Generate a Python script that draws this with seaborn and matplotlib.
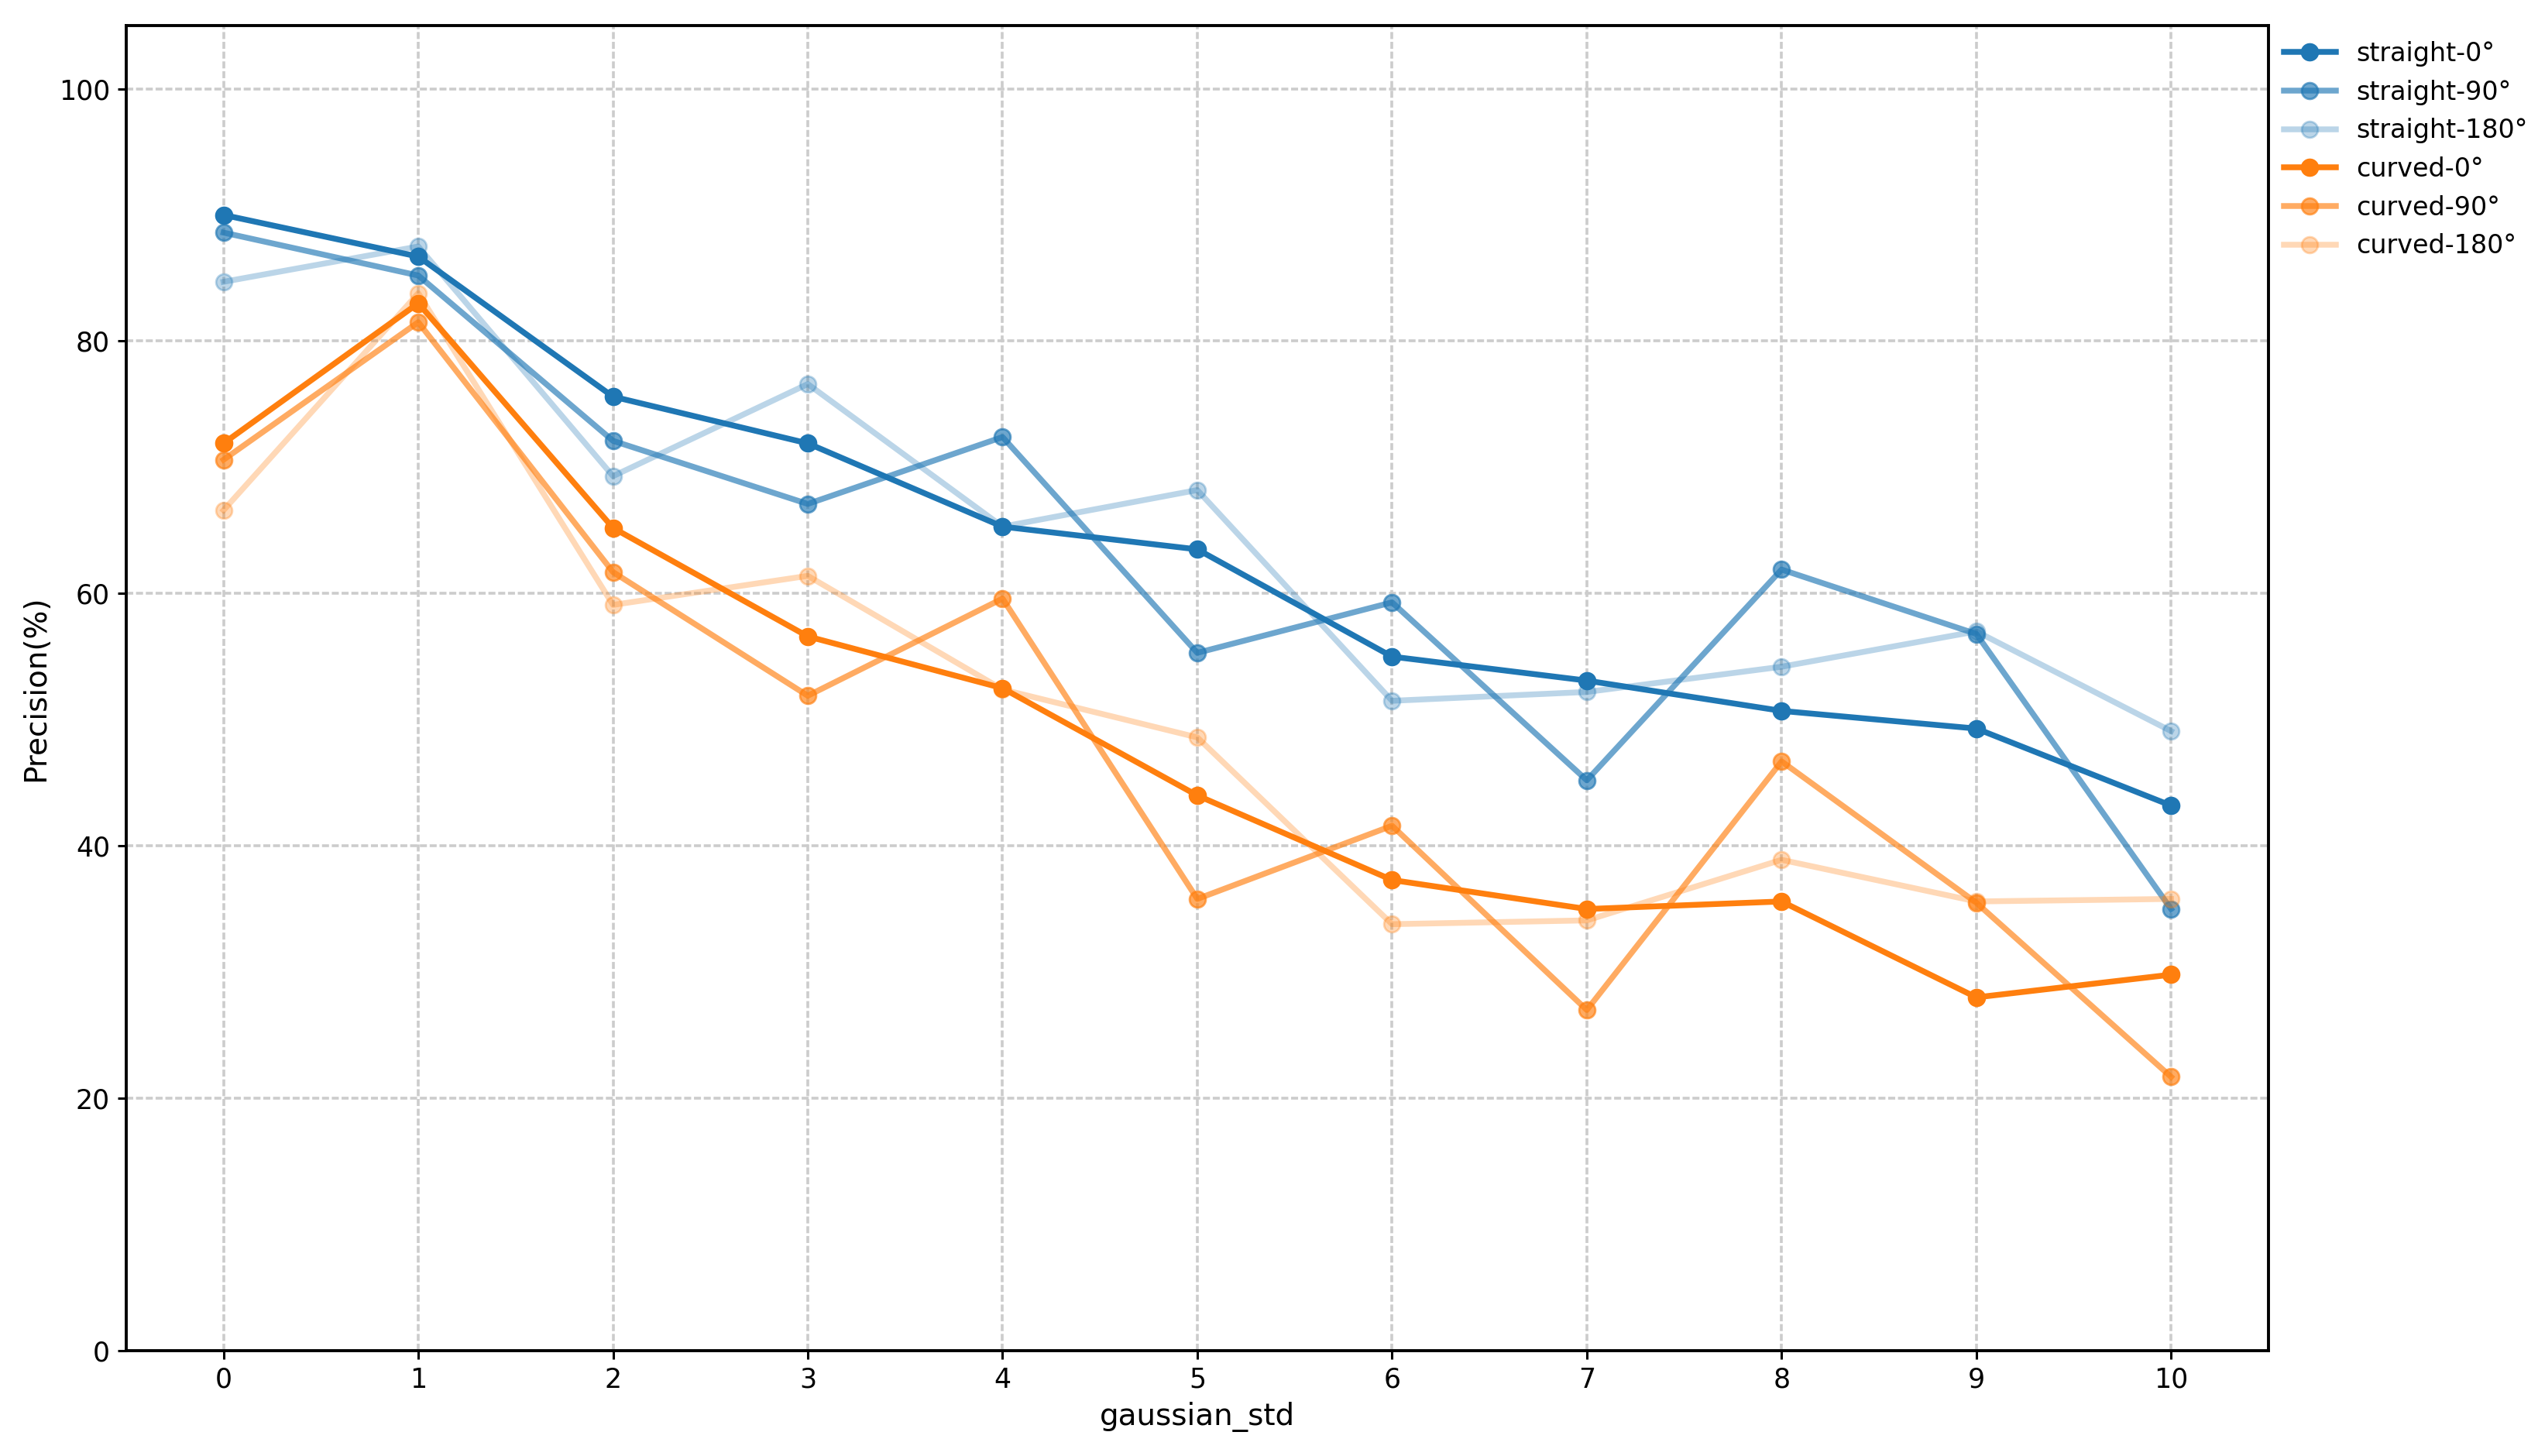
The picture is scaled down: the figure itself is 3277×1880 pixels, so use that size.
import numpy as np
import pandas as pd
import seaborn as sns
import matplotlib.pyplot as plt

# x values
gaussian_std = [0, 1, 2, 3, 4, 5, 6, 7, 8, 9, 10]

# precision (%)
straight_0 = [90.0, 86.7, 75.6, 71.9, 65.3, 63.5, 55.0, 53.1, 50.7, 49.3, 43.2]
straight_90 = [88.6, 85.2, 72.1, 67.1, 72.4, 55.3, 59.3, 45.2, 61.9, 56.8, 35.0]
straight_180 = [84.7, 87.5, 69.3, 76.6, 65.3, 68.2, 51.5, 52.2, 54.2, 57.0, 49.1]
curved_0 = [71.9, 83.0, 65.2, 56.6, 52.5, 44.0, 37.3, 35.0, 35.6, 28.0, 29.8]
curved_90 = [70.6, 81.5, 61.7, 51.9, 59.6, 35.8, 41.6, 27.0, 46.7, 35.5, 21.7]
curved_180 = [66.6, 83.8, 59.1, 61.4, 52.4, 48.6, 33.8, 34.1, 38.9, 35.6, 35.8]

series = [
    ('straight-0°', straight_0, '#1f77b4', 1.0),
    ('straight-90°', straight_90, '#1f77b4', 0.65),
    ('straight-180°', straight_180, '#1f77b4', 0.3),
    ('curved-0°', curved_0, '#ff7f0e', 1.0),
    ('curved-90°', curved_90, '#ff7f0e', 0.65),
    ('curved-180°', curved_180, '#ff7f0e', 0.3),
]

fig = plt.figure(figsize=(3277 / 200, 1880 / 200), dpi=200)
ax = fig.add_axes([0.0497, 0.0723, 0.8441, 0.9101])

for name, vals, color, alpha in series:
    df = pd.DataFrame({'gaussian_std': gaussian_std, 'precision': vals})
    sns.lineplot(data=df, x='gaussian_std', y='precision', ax=ax,
                 color=color, alpha=alpha, marker='o', markersize=7.5,
                 markeredgecolor=color, markeredgewidth=1.0,
                 linewidth=2.7, label=name)

ax.set_xlim(-0.5, 10.5)
ax.set_ylim(0, 105)
ax.set_xticks(gaussian_std)
ax.set_yticks([0, 20, 40, 60, 80, 100])
ax.tick_params(labelsize=12.5, width=1.1, length=4)
ax.set_xlabel('gaussian_std', fontsize=14)
ax.set_ylabel('Precision(%)', fontsize=14)
ax.grid(True, color='0.8', linestyle=(0, (2.5, 1)), linewidth=1.3)
ax.set_axisbelow(True)
for sp in ax.spines.values():
    sp.set_linewidth(1.4)

ax.legend(loc='upper left', bbox_to_anchor=(1.0, 1.0), frameon=False,
          fontsize=12, borderaxespad=0.2, handlelength=2.0)

plt.savefig('out.png', dpi=200)
